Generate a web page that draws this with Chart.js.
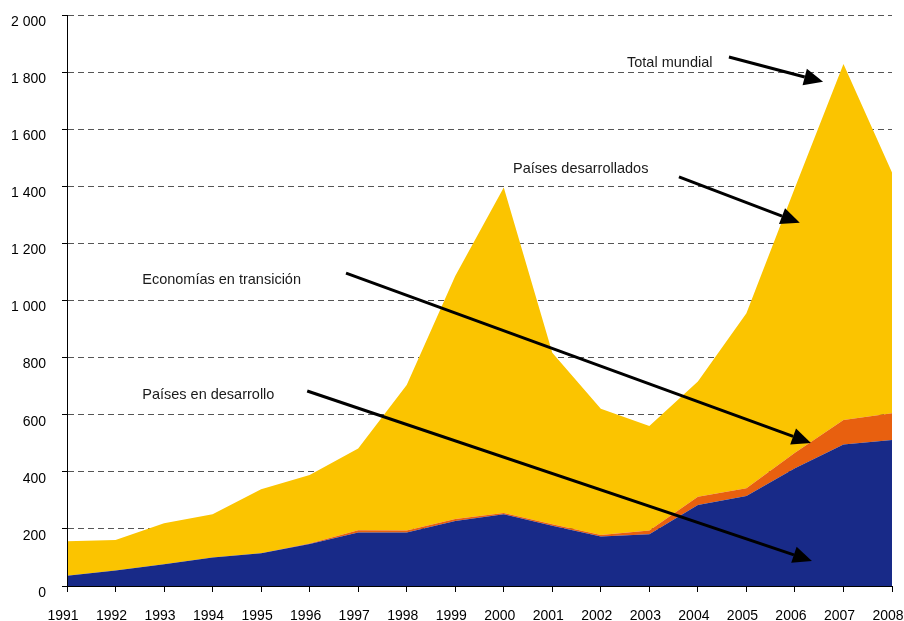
<!DOCTYPE html>
<html>
<head>
<meta charset="utf-8">
<script src="https://cdn.jsdelivr.net/npm/chart.js@4/dist/chart.umd.min.js"></script>
<style>
  html, body { margin: 0; padding: 0; background: #fff; }
  #wrap { width: 904px; height: 621px; }
</style>
</head>
<body>
<div id="wrap"><canvas id="chart"></canvas></div>
<script>
const years = ['1991', '1992', '1993', '1994', '1995', '1996', '1997', '1998', '1999',
               '2000', '2001', '2002', '2003', '2004', '2005', '2006', '2007', '2008']

// stacked bottom to top: developing, transition, developed
const developing  = [36, 54, 76, 100, 115, 147, 187, 187, 228, 251, 211, 173, 181, 284, 315, 412, 496, 511]
const transition  = [0, 0, 0, 0, 0, 2, 8, 7, 7, 5, 5, 6, 13, 29, 27, 55, 85, 94]
const developed   = [121, 107, 144, 151, 224, 240, 287, 510, 851, 1140, 601, 442, 366, 403, 613, 928, 1247, 843]

const yTicks = [0, 200, 400, 600, 800, 1000, 1200, 1400, 1600, 1800, 2000]

// callouts: text anchor and arrow from -> to, in (year index, value)
const callouts = [
  { text: 'Total mundial',           tx: 11.54, ty: 1832, from: [13.64, 1853], to: [15.58, 1766] },
  { text: 'Países desarrollados',    tx: 9.19,  ty: 1461, from: [12.61, 1433], to: [15.1, 1272] },
  { text: 'Economías en transición', tx: 1.55,  ty: 1072, from: [5.75, 1096],  to: [15.33, 501] },
  { text: 'Países en desarrollo',    tx: 1.55,  ty: 669,  from: [4.95, 683],   to: [15.35, 88] }
]

const FONT = '"Liberation Sans", Arial, sans-serif'

const calloutPlugin = {
  id: 'callouts',
  afterDatasetsDraw(chart) {
    const { ctx, scales: { x, y } } = chart
    ctx.save()
    ctx.font = '14.5px ' + FONT
    ctx.textBaseline = 'middle'
    ctx.textAlign = 'left'
    callouts.forEach(c => {
      ctx.fillStyle = '#1a1a1a'
      ctx.fillText(c.text, x.getPixelForValue(c.tx), y.getPixelForValue(c.ty))

      const x0 = x.getPixelForValue(c.from[0]), y0 = y.getPixelForValue(c.from[1])
      const x1 = x.getPixelForValue(c.to[0]),   y1 = y.getPixelForValue(c.to[1])
      const ang = Math.atan2(y1 - y0, x1 - x0)
      const headLen = 19, headHalf = 8.5
      const bx = x1 - headLen * Math.cos(ang), by = y1 - headLen * Math.sin(ang)

      ctx.strokeStyle = '#000'
      ctx.lineWidth = 3
      ctx.beginPath()
      ctx.moveTo(x0, y0)
      ctx.lineTo(bx, by)
      ctx.stroke()

      ctx.fillStyle = '#000'
      ctx.beginPath()
      ctx.moveTo(x1, y1)
      ctx.lineTo(bx + headHalf * Math.sin(ang), by - headHalf * Math.cos(ang))
      ctx.lineTo(bx - headHalf * Math.sin(ang), by + headHalf * Math.cos(ang))
      ctx.closePath()
      ctx.fill()
    })
    ctx.restore()
  }
}

const area = (label, data, color, fill) => ({
  label, data, fill,
  backgroundColor: color,
  borderColor: color,
  borderWidth: 0,
  pointRadius: 0,
  tension: 0
})

new Chart(document.getElementById('chart'), {
  type: 'line',
  data: {
    labels: years,
    datasets: [
      area('Países en desarrollo', developing, '#182a88', 'origin'),
      area('Economías en transición', transition, '#e8600f', '-1'),
      area('Países desarrollados', developed, '#fbc400', '-1')
    ]
  },
  options: {
    responsive: true,
    maintainAspectRatio: false,
    animation: false,
    events: [],
    layout: { padding: { top: 15, right: 12, left: 0, bottom: 0 } },
    plugins: {
      legend: { display: false },
      tooltip: { enabled: false }
    },
    scales: {
      x: {
        offset: false,
        grid: { drawOnChartArea: false, tickLength: 6, tickColor: '#000', tickWidth: 1 },
        border: { color: '#000', width: 1, z: 1 },
        ticks: {
          color: '#000', font: { family: FONT, size: 14 }, padding: 16,
          labelOffset: -4, maxRotation: 0, autoSkip: false
        },
        afterFit(scale) {
          scale.height = 35
          scale.paddingLeft = 0
          scale.paddingRight = 0
        }
      },
      y: {
        stacked: true,
        min: 0,
        max: 2000,
        afterBuildTicks(scale) {
          scale.ticks = yTicks.map(v => ({ value: v }))
        },
        grid: { color: '#555', lineWidth: 1, tickLength: 5, tickColor: '#000' },
        border: { color: '#000', width: 1, dash: [6, 4], z: 1 },
        ticks: {
          color: '#000',
          font: { family: FONT, size: 14 },
          padding: 16,
          labelOffset: 7,
          callback: v => String(v).replace(/\B(?=(\d{3})+(?!\d))/g, ' ')
        },
        afterFit(scale) {
          scale.width = 67
          scale.paddingTop = 0
          scale.paddingBottom = 0
        }
      }
    }
  },
  plugins: [calloutPlugin]
})
</script>
</body>
</html>
